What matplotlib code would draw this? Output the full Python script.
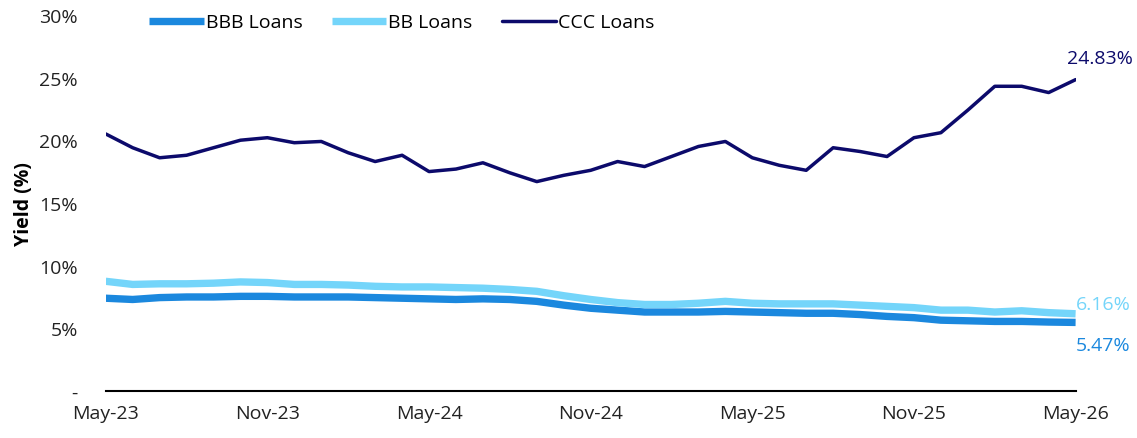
import numpy as np
import pandas as pd
import matplotlib.pyplot as plt

plt.rcParams['font.family'] = ['Open Sans', 'DejaVu Sans']

# Monthly loan yields, May-23 .. May-26 (%)
dates = pd.date_range('2023-05-01', '2026-05-01', freq='MS')

bbb = [7.4, 7.3, 7.45, 7.5, 7.5, 7.55, 7.55, 7.5, 7.5, 7.5, 7.45, 7.4, 7.35, 7.3,
       7.35, 7.3, 7.15, 6.85, 6.6, 6.45, 6.3, 6.3, 6.3, 6.35, 6.3, 6.25, 6.2, 6.2,
       6.1, 5.95, 5.85, 5.65, 5.6, 5.55, 5.55, 5.5, 5.47]
bb = [8.75, 8.5, 8.55, 8.55, 8.6, 8.7, 8.65, 8.5, 8.5, 8.45, 8.35, 8.3, 8.3, 8.25,
      8.2, 8.1, 7.95, 7.6, 7.3, 7.05, 6.9, 6.9, 7.0, 7.15, 7.0, 6.95, 6.95, 6.95,
      6.85, 6.75, 6.65, 6.45, 6.45, 6.3, 6.4, 6.25, 6.16]
ccc = [20.5, 19.4, 18.6, 18.8, 19.4, 20.0, 20.2, 19.8, 19.9, 19.0, 18.3, 18.8,
       17.5, 17.7, 18.2, 17.4, 16.7, 17.2, 17.6, 18.3, 17.9, 18.7, 19.5, 19.9,
       18.6, 18.0, 17.6, 19.4, 19.1, 18.7, 20.2, 20.6, 22.4, 24.3, 24.3, 23.8, 24.83]

c_bbb = '#1b88de'
c_bb = '#74d5fa'
c_ccc = '#0c0a6b'

fig = plt.figure(figsize=(11.37, 4.39), dpi=100)
ax = fig.add_axes([0.093, 0.107, 0.853, 0.857])

x = np.arange(len(dates))
ax.plot(x, bbb, color=c_bbb, lw=5.3, label='BBB Loans', solid_capstyle='butt')
ax.plot(x, bb, color=c_bb, lw=5.3, label='BB Loans', solid_capstyle='butt')
ax.plot(x, ccc, color=c_ccc, lw=2.5, label='CCC Loans', solid_capstyle='round')

ax.set_xlim(0, len(dates) - 1)
ax.set_ylim(0, 30)
ax.set_yticks([0, 5, 10, 15, 20, 25, 30])
ax.set_yticklabels(['-', '5%', '10%', '15%', '20%', '25%', '30%'])
ticks = x[::6]
ax.set_xticks(ticks)
ax.set_xticklabels([dates[i].strftime('%b-%y') for i in ticks])
ax.tick_params(length=0, labelsize=14, colors='#222222')
ax.tick_params(axis='x', pad=9)
ax.tick_params(axis='y', pad=20)

for s in ['top', 'right', 'left']:
    ax.spines[s].set_visible(False)
ax.spines['bottom'].set_color('black')
ax.spines['bottom'].set_linewidth(1.5)
ax.set_ylabel('Yield (%)', fontsize=14, fontweight='bold', labelpad=4)

# end labels
last = len(dates) - 1
ax.annotate(f'{ccc[-1]:.2f}%', (last, ccc[-1]), xytext=(-6, 9), textcoords='offset points',
            color=c_ccc, fontsize=14, va='bottom', ha='left')
ax.annotate(f'{bb[-1]:.2f}%', (last, bb[-1]), xytext=(0, 7), textcoords='offset points',
            color=c_bb, fontsize=14, va='center', ha='left')
ax.annotate(f'{bbb[-1]:.2f}%', (last, bbb[-1]), xytext=(0, -16), textcoords='offset points',
            color=c_bbb, fontsize=14, va='center', ha='left')

leg = ax.legend(loc='upper left', bbox_to_anchor=(0.027, 1.05), ncol=3, frameon=False,
                fontsize=14, handlelength=2.8, handletextpad=0.1, columnspacing=1.5)

fig.savefig('out.png', dpi=100)
